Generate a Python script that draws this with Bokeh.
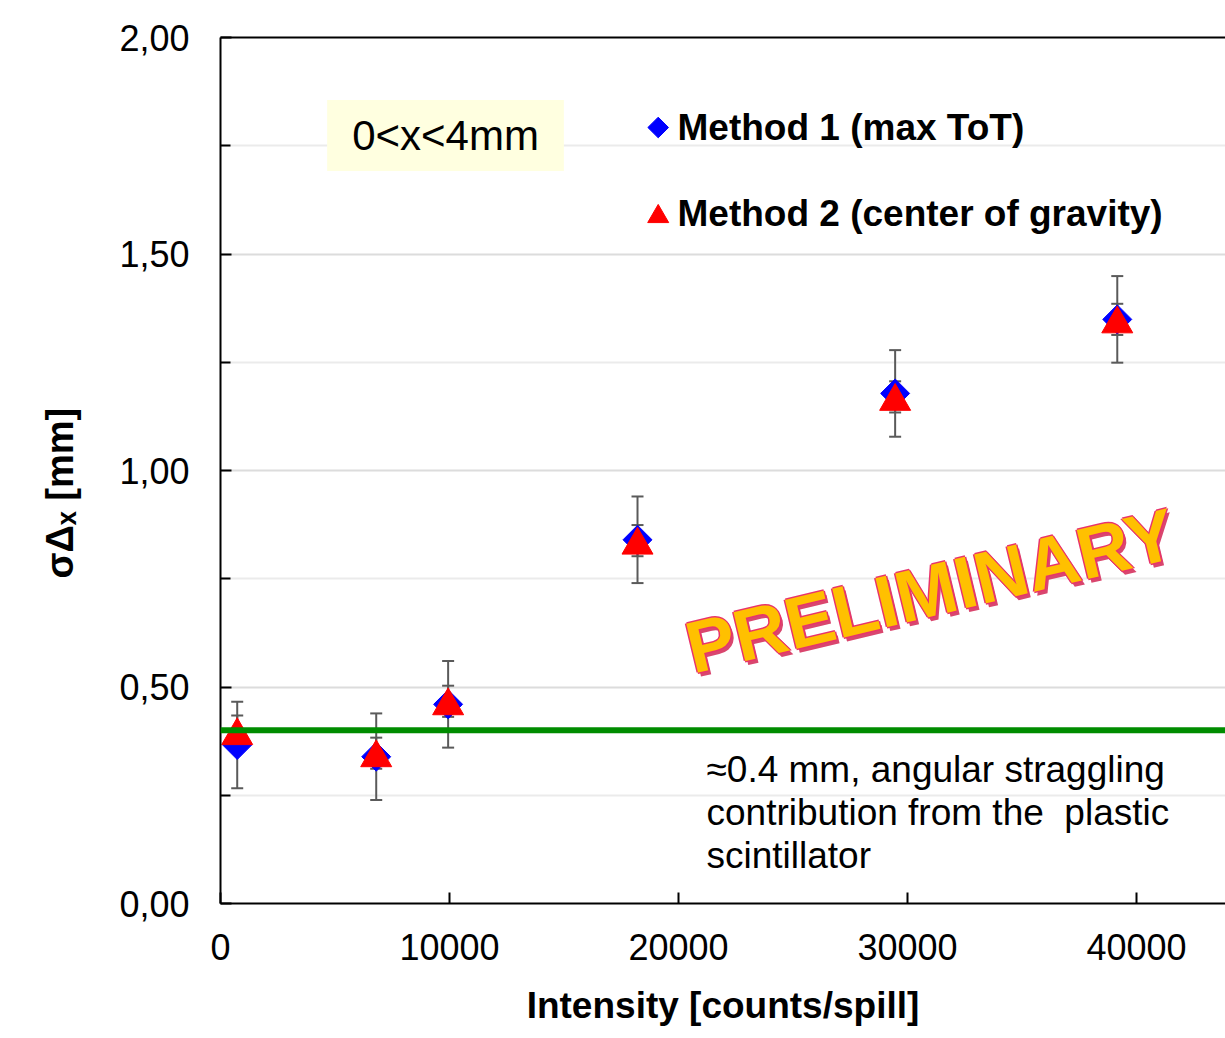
import math
from bokeh.plotting import figure
from bokeh.models import (ColumnDataSource, Whisker, TeeHead, Span, Label, Title,
                          FixedTicker, LinearAxis, Range1d, CustomJSTickFormatter)
from bokeh.transform import dodge
from bokeh.embed import file_html
from bokeh.resources import INLINE

FONT = "Liberation Sans"

# ---------------- data ----------------
intensity = [730, 6800, 9940, 18210, 29460, 39160]
method1 = [0.366, 0.339, 0.460, 0.840, 1.178, 1.349]
method1_err = [0.100, 0.100, 0.100, 0.100, 0.100, 0.100]
method2 = [0.398, 0.347, 0.467, 0.838, 1.170, 1.349]
method2_err = [0.036, 0.036, 0.036, 0.036, 0.036, 0.036]
straggling_level = 0.40
legend_labels = ["Method 1 (max ToT)", "Method 2 (center of gravity)"]
x_ticks = [0, 10000, 20000, 30000, 40000]
x_tick_labels = ["0", "10000", "20000", "30000", "40000"]
y_ticks = [0.0, 0.5, 1.0, 1.5, 2.0]
y_tick_labels = ["0,00", "0,50", "1,00", "1,50", "2,00"]
y_minor_ticks = [0.25, 0.75, 1.25, 1.75]
x_title = "Intensity [counts/spill]"
y_title = "\u03c3\u0394\u2093 [mm]"
range_text = "0<x<4mm"
note_text = "\u22480.4 mm, angular straggling\ncontribution from the \u00a0plastic\nscintillator"
stamp_text = "PRELIMINARY"

X_MAX = 43886
PX_X = 0.0229   # px per x unit
PX_Y = 433.0    # px per y unit


def dx(px):
    return (px - 220) / PX_X


def dy(px):
    return (903 - px) / PX_Y


src1 = ColumnDataSource(dict(
    x=intensity, y=method1,
    lower=[v - e for v, e in zip(method1, method1_err)],
    upper=[v + e for v, e in zip(method1, method1_err)]))
src2 = ColumnDataSource(dict(
    x=intensity, y=method2,
    lower=[v - e for v, e in zip(method2, method2_err)],
    upper=[v + e for v, e in zip(method2, method2_err)]))

p = figure(width=1225, height=1038, x_range=Range1d(0, X_MAX), y_range=Range1d(0, 2),
           output_backend="svg", toolbar_location=None,
           min_border_left=220, min_border_right=0, min_border_top=37, min_border_bottom=135,
           outline_line_color=None, background_fill_color="white", border_fill_color="white")


def fmt(vals, labels):
    return CustomJSTickFormatter(args=dict(tvals=vals, tlabels=labels), code="""
        for (let i = 0; i < tvals.length; i++) {
            if (Math.abs(tvals[i] - tick) < 1e-9) { return tlabels[i]; }
        }
        return '';
    """)


# x axis
xa = p.xaxis[0]
xa.ticker = FixedTicker(ticks=x_ticks, minor_ticks=[])
xa.formatter = fmt(x_ticks, x_tick_labels)
xa.major_tick_in = 11
xa.major_tick_out = 0
xa.major_tick_line_width = 2
xa.major_tick_line_color = "black"
xa.minor_tick_line_color = None
xa.axis_line_width = 2
xa.axis_line_color = "black"
xa.major_label_text_font = FONT
xa.major_label_text_font_size = "36px"
xa.major_label_text_color = "black"
xa.major_label_standoff = 30
xa.axis_label = x_title
xa.axis_label_text_font = FONT
xa.axis_label_text_font_size = "37px"
xa.axis_label_text_font_style = "bold"
xa.axis_label_text_color = "black"
xa.axis_label_standoff = 22

# y axis
ya = p.yaxis[0]
ya.ticker = FixedTicker(ticks=y_ticks, minor_ticks=y_minor_ticks)
ya.formatter = fmt(y_ticks, y_tick_labels)
ya.major_tick_in = 11
ya.major_tick_out = 0
ya.minor_tick_in = 10
ya.minor_tick_out = 0
ya.major_tick_line_width = 2
ya.minor_tick_line_width = 2
ya.major_tick_line_color = "black"
ya.minor_tick_line_color = "black"
ya.axis_line_width = 2
ya.axis_line_color = "black"
ya.major_label_text_font = FONT
ya.major_label_text_font_size = "36px"
ya.major_label_text_color = "black"
ya.major_label_standoff = 31

# y title as a left-side title, starting a little below the frame centre
p.add_layout(Title(text=y_title, align="left", vertical_align="middle", offset=325,
                   standoff=70, text_font=FONT, text_font_size="38px",
                   text_font_style="bold", text_color="black"), "left")

# top border line
top_axis = LinearAxis(ticker=FixedTicker(ticks=[]), major_tick_line_color=None,
                      minor_tick_line_color=None, major_label_text_font_size="0px",
                      axis_line_width=2, axis_line_color="black")
p.add_layout(top_axis, "above")

p.xgrid.visible = False
p.ygrid.ticker = ya.ticker
p.ygrid.grid_line_color = "#DCDCDC"
p.ygrid.grid_line_width = 2
p.ygrid.minor_grid_line_color = "#EBEBEB"
p.ygrid.minor_grid_line_width = 2

# error bars
err_col = "#5A5A5A"
for src in (src1, src2):
    w = Whisker(base="x", lower="lower", upper="upper", source=src,
                line_color=err_col, line_width=2,
                upper_head=TeeHead(size=12, line_color=err_col, line_width=2),
                lower_head=TeeHead(size=12, line_color=err_col, line_width=2))
    p.add_layout(w)

# markers
BLUE, RED = "#0000FF", "#FF0000"
p.scatter("x", "y", source=src1, marker="square", angle=math.pi / 4, size=20.5,
          fill_color=BLUE, line_color=BLUE)
p.scatter(x="x", y=dodge("y", -0.0104), source=src2, marker="triangle", size=31,
          fill_color=RED, line_color=RED)

# reference line
p.add_layout(Span(location=straggling_level, dimension="width", line_color="#008C00",
                  line_width=6))

# legend (drawn manually so the diamond keeps its rotation)
leg_src = ColumnDataSource(dict(x=[dx(657.7)], y=[dy(127)]))
p.scatter("x", "y", source=leg_src, marker="square", angle=math.pi / 4, size=14.6,
          fill_color=BLUE, line_color=BLUE)
leg_src2 = ColumnDataSource(dict(x=[dx(657.7)], y=[dy(213)]))
p.scatter(x="x", y=dodge("y", -0.0070), source=leg_src2, marker="triangle", size=21,
          fill_color=RED, line_color=RED)
for lbl, ypx in zip(legend_labels, [127, 213]):
    p.add_layout(Label(x=dx(677), y=dy(ypx), text=lbl, text_align="left",
                       text_baseline="middle", text_font=FONT, text_font_size="37px",
                       text_font_style="bold", text_color="black"))

# range box
p.add_layout(Label(x=dx(445), y=dy(135), text=range_text,
                   text_align="center", text_baseline="middle",
                   text_font=FONT, text_font_size="42px", text_color="black",
                   background_fill_color="#FFFFE0", padding=(25, 12)))

# note
p.add_layout(Label(x=dx(706), y=dy(748), text=note_text, text_align="left",
                   text_baseline="top", text_font=FONT, text_font_size="37px",
                   text_color="black", text_line_height=1.06))

# PRELIMINARY stamp
sx, sy, ang = dx(930), dy(590), math.radians(13.5)
STAMP_SIZE = "73px"
outline = "#E8336B"
p.add_layout(Label(x=sx, y=sy, x_offset=3, y_offset=-4, text=stamp_text, angle=ang,
                   text_align="center", text_baseline="middle", text_font=FONT,
                   text_font_size=STAMP_SIZE, text_font_style="bold",
                   text_color="#D9466E"))
for ox, oy in [(-1.5, 0), (1.5, 0), (0, -1.5), (0, 1.5)]:
    p.add_layout(Label(x=sx, y=sy, x_offset=ox, y_offset=oy, text=stamp_text, angle=ang,
                       text_align="center", text_baseline="middle", text_font=FONT,
                       text_font_size=STAMP_SIZE, text_font_style="bold",
                       text_color=outline))
p.add_layout(Label(x=sx, y=sy, text=stamp_text, angle=ang,
                   text_align="center", text_baseline="middle", text_font=FONT,
                   text_font_size=STAMP_SIZE, text_font_style="bold", text_color="#FFC000"))

open("out.html", "w").write(file_html(p, INLINE))
